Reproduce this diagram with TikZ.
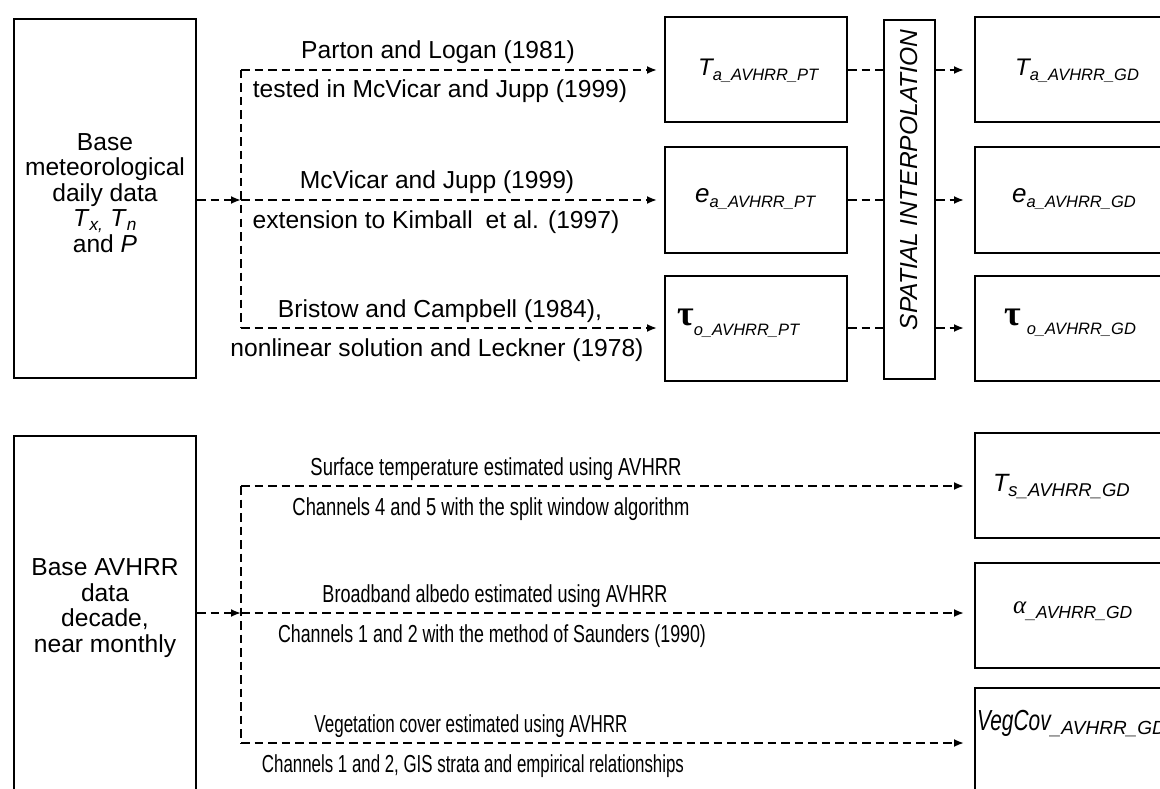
\documentclass[tikz,border=0pt]{standalone}
\usepackage{fontspec}
\setmainfont{Liberation Sans}
\newfontfamily\grk{Liberation Serif}
\usetikzlibrary{arrows.meta}
\newcommand{\lblfont}{\fontsize{24.6}{25.6}\selectfont}
\newcommand{\subf}{\fontsize{16.5}{16.5}\selectfont\itshape}
\newcommand{\bigi}{\fontsize{24}{24}\selectfont\itshape}
\newcommand{\sqz}[2]{\resizebox{#1pt}{\height}{#2}}
\begin{document}
\begin{tikzpicture}[x=1pt,y=-1pt,
  box/.style={draw, line width=2pt, inner sep=0pt},
  conn/.style={line width=1.9pt, dash pattern=on 8.5pt off 5pt},
  arr/.style={conn, -{Latex[length=10pt,width=8pt]}},
  lbl/.style={font=\lblfont, inner sep=0pt, anchor=base},
  sym/.style={inner sep=0pt, anchor=base west}]
\useasboundingbox (0,0) rectangle (1160,789);
\fill[white] (0,0) rectangle (1160,789);
\clip (0,0) rectangle (1160,789);

% ---------- top section ----------
\node[box, minimum width=182pt, minimum height=359pt] (met) at (105,198.5) {};
\node[font=\lblfont, align=center, inner sep=0pt] (mettxt) at (105,193)
  {Base\\meteorological\\daily data\\\textit{T}\textsubscript{\textit{x,}} \textit{T}\textsubscript{\textit{n}}\\and \textit{P}};

\node[box, minimum width=182pt, minimum height=105pt] (pt1) at (756,70) {};
\node[box, minimum width=182pt, minimum height=105pt] (pt2) at (756,200) {};
\node[box, minimum width=182pt, minimum height=105pt] (pt3) at (756,328) {};

\node[box, minimum width=51pt, minimum height=359pt] (si) at (909.5,199.5) {};
\node[font=\lblfont\itshape, rotate=90, inner sep=0pt] (sitxt) at (909,180) {SPATIAL INTERPOLATION};

\node[box, minimum width=200pt, minimum height=105pt] (gd1) at (1075,70) {};
\node[box, minimum width=200pt, minimum height=105pt] (gd2) at (1075,200) {};
\node[box, minimum width=200pt, minimum height=105pt] (gd3) at (1075,328) {};

% box symbols
\node[sym] (s1) at (698,76) {{\bigi T}\raisebox{-5pt}{\subf a\_AVHRR\_PT}};
\node[sym] (s2) at (695,203) {{\fontsize{26}{26}\selectfont\itshape e}\raisebox{-5pt}{\subf a\_AVHRR\_PT}};
\node[sym] (s3) at (677,325) {{\fontsize{36}{36}\selectfont\grk\bfseries τ}\raisebox{-10pt}{\subf o\_AVHRR\_PT}};
\node[sym] (g1) at (1015,76) {{\bigi T}\raisebox{-5pt}{\subf a\_AVHRR\_GD}};
\node[sym] (g2) at (1012,203) {{\fontsize{26}{26}\selectfont\itshape e}\raisebox{-5pt}{\subf a\_AVHRR\_GD}};
\node[sym] (g3) at (1004,325) {{\fontsize{36}{36}\selectfont\grk\bfseries τ}\hspace{6pt}\raisebox{-9pt}{\subf o\_AVHRR\_GD}};

% connectors
\coordinate (jt1) at (241,70);
\coordinate (jt2) at (241,200);
\coordinate (jt3) at (241,328);
\draw[arr] (met.east |- jt2) -- (jt2);
\draw[conn] (jt1) -- (jt3);
\draw[arr, shorten >=7pt] (jt1) -- (pt1.west);
\draw[arr, shorten >=7pt] (jt2) -- (pt2.west);
\draw[arr, shorten >=7pt] (jt3) -- (pt3.west);
\draw[conn] (pt1.east) -- (pt1.east -| si.west);
\draw[conn] (pt2.east) -- (pt2.east -| si.west);
\draw[conn] (pt3.east) -- (pt3.east -| si.west);
\draw[arr, shorten >=10pt] (gd1.west -| si.east) -- (gd1.west);
\draw[arr, shorten >=10pt] (gd2.west -| si.east) -- (gd2.west);
\draw[arr, shorten >=10pt] (gd3.west -| si.east) -- (gd3.west);

% labels top
\node[lbl] (l1a) at (438,59) {Parton and Logan (1981)};
\node[lbl] (l1b) at (440,98) {tested in McVicar and Jupp (1999)};
\node[lbl] (l2a) at (437,189) {McVicar and Jupp (1999)};
\node[lbl] (l2b) at (436,228) {extension to Kimball\hspace{6pt} et al. (1997)};
\node[lbl] (l3a) at (440,317) {Bristow and Campbell (1984),};
\node[lbl] (l3b) at (437,356) {nonlinear solution and Leckner (1978)};

% ---------- bottom section ----------
\node[box, minimum width=182pt, minimum height=359pt] (avh) at (105,615.5) {};
\node[font=\lblfont, align=center, inner sep=0pt] (avhtxt) at (105,608)
  {Base AVHRR\\data\\decade,\\near monthly};

\node[box, minimum width=200pt, minimum height=105pt] (gb1) at (1075,485.5) {};
\node[box, minimum width=200pt, minimum height=105pt] (gb2) at (1075,615) {};
\node[box, minimum width=200pt, minimum height=105pt] (gb3) at (1075,740) {};

\node[sym] (b1) at (993,491) {{\fontsize{25}{25}\selectfont\itshape T}\raisebox{-5pt}{\fontsize{18.5}{18.5}\selectfont\itshape s\_AVHRR\_GD}};
\node[sym] (b2) at (1013,613) {{\fontsize{25}{25}\selectfont\grk\itshape α}\raisebox{-5pt}{\fontsize{17.5}{17.5}\selectfont\itshape \_AVHRR\_GD}};
\node[sym] (b3) at (977,730) {\scalebox{0.72}[1]{\fontsize{29}{29}\selectfont\itshape VegCov}\raisebox{-4pt}{\fontsize{19}{19}\selectfont\itshape \_AVHRR\_GD}};

\coordinate (jb1) at (241,486);
\coordinate (jb2) at (241,613);
\coordinate (jb3) at (241,743);
\draw[arr] (avh.east |- jb2) -- (jb2);
\draw[conn] (jb1) -- (jb3);
\draw[arr, shorten >=10pt] (jb1) -- (jb1 -| gb1.west);
\draw[arr, shorten >=10pt] (jb2) -- (jb2 -| gb2.west);
\draw[arr, shorten >=10pt] (jb3) -- (jb3 -| gb3.west);

\node[lbl] (m1a) at (496,475) {\sqz{371}{Surface temperature estimated using AVHRR}};
\node[lbl] (m1b) at (491,515) {\sqz{397}{Channels 4 and 5 with the split window algorithm}};
\node[lbl] (m2a) at (495,602) {\sqz{345}{Broadband albedo estimated using AVHRR}};
\node[lbl] (m2b) at (492,642) {\sqz{428}{Channels 1 and 2 with the method of Saunders (1990)}};
\node[lbl] (m3a) at (471,732) {\sqz{313}{Vegetation cover estimated using AVHRR}};
\node[lbl] (m3b) at (473,772) {\sqz{422}{Channels 1 and 2, GIS strata and empirical relationships}};
\end{tikzpicture}
\end{document}
